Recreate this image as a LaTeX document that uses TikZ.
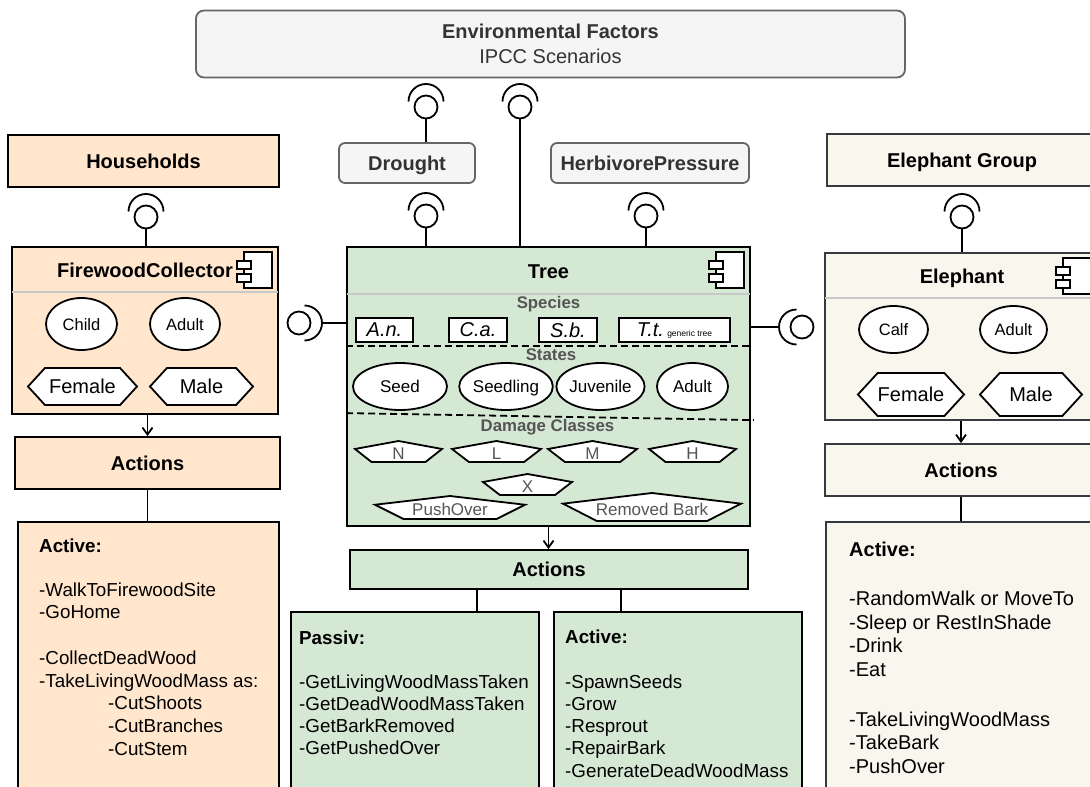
\documentclass[tikz,border=0pt]{standalone}
\usepackage{fontspec}
\setmainfont{Liberation Sans}
\usetikzlibrary{arrows,arrows.meta,positioning,calc,shapes.geometric,shapes.symbols}

\definecolor{peach}{HTML}{FFE6CC}
\definecolor{leaf}{HTML}{D5E8D4}
\definecolor{ivory}{HTML}{F9F7ED}
\definecolor{ivoryline}{HTML}{36393D}
\definecolor{envfill}{HTML}{F5F5F5}
\definecolor{envline}{HTML}{666666}
\definecolor{envtext}{HTML}{333333}
\definecolor{subtext}{HTML}{555555}
\definecolor{sepline}{HTML}{C8C8C8}

\newcommand{\fsz}[2]{\fontsize{#1}{#2}\selectfont}
% component icon in the upper right corner of a box
\newcommand{\compicon}[1]{%
  \begin{scope}[shift={(#1.north east)}]
    \filldraw[iconline] (-35,-6) rectangle (-7,-42);
    \filldraw[iconline] (-42,-15) rectangle (-28,-23);
    \filldraw[iconline] (-42,-28) rectangle (-28,-36);
  \end{scope}}
% damage class: name, x, y, width, height, label
\newcommand{\dmgcls}[6]{%
  \filldraw[dmgline] ({#2-#4/2},{#3+0.12*#5}) -- ({#2},{#3+#5/2})
    -- ({#2+#4/2},{#3+0.12*#5}) -- ({#2+0.31*#4},{#3-#5/2})
    -- ({#2-0.31*#4},{#3-#5/2}) -- cycle;
  \node[dmgtext] (#1) at (#2,{#3-2}) {#6};}

\tikzset{
  wire/.style={line width=1.8pt},
  boxed/.style={draw, line width=1.8pt, inner sep=0pt},
  peachbox/.style={boxed, fill=peach},
  leafbox/.style={boxed, fill=leaf},
  ivorybox/.style={boxed, fill=ivory, draw=ivoryline},
  envbox/.style={draw=envline, fill=envfill, line width=1.8pt, rounded corners=8pt,
    text=envtext, font=\fsz{20}{25}},
  boxtitle/.style={font=\fsz{20}{24}\bfseries, text height=14.3pt, text depth=0pt},
  sepbar/.style={draw=sepline, line width=1.8pt},
  iconline/.style={draw, fill=white, line width=1.5pt},
  stateell/.style={ellipse, draw, fill=white, line width=1.8pt, inner sep=0pt,
    text height=12pt, text depth=0pt},
  gender/.style={signal, signal to=east and west, signal pointer angle=95, draw,
    fill=white, line width=1.8pt, inner sep=0pt, font=\fsz{20}{24}},
  speciesbox/.style={draw, fill=white, line width=1.8pt, inner sep=0pt,
    minimum height=24pt, font=\fsz{20}{24}\itshape},
  sectlabel/.style={font=\fsz{16.8}{20}\bfseries, text=subtext},
  dashline/.style={line width=1.8pt, dash pattern=on 7pt off 4pt},
  dmgline/.style={draw, fill=white, line width=1.8pt},
  dmgtext/.style={font=\fsz{17}{20}, text=subtext, inner sep=0pt},
  ifball/.style={circle, draw, fill=white, line width=1.8pt, minimum size=23pt, inner sep=0pt},
  actionlist/.style={align=left, anchor=north west, inner sep=0pt},
  iface/.pic={
    \node[ifball] (-b) at (0,0) {};
    \draw[wire] (-17.5,5.5) arc[start angle=180, end angle=0, radius=17.5];
    \coordinate (-s) at (0,23);
  }
}

\begin{document}
\begin{tikzpicture}[x=1pt,y=1pt,>={Straight Barb[length=7pt,width=10pt]}]
\useasboundingbox (0,0) rectangle (1090,-787);
\clip (0,0) rectangle (1090,-787);

% environment and pressures
\node[envbox, minimum width=709pt, minimum height=67pt, align=center] (env) at (550.5,-44)
  {\textbf{Environmental Factors}\\IPCC Scenarios};
\node[envbox, rounded corners=6pt, minimum width=136pt, minimum height=40pt,
  font=\fsz{20}{24}\bfseries, text height=14.3pt, text depth=0pt] (drought) at (407,-163) {Drought};
\node[envbox, rounded corners=6pt, minimum width=198pt, minimum height=40pt,
  font=\fsz{20}{24}\bfseries, text height=14.3pt, text depth=0pt] (herb) at (650,-163) {HerbivorePressure};

% agent groups
\node[peachbox, minimum width=271pt, minimum height=52pt, boxtitle] (house) at (143.5,-161) {Households};
\node[ivorybox, minimum width=270pt, minimum height=52pt, boxtitle] (egroup) at (962,-160) {Elephant Group};

% component boxes
\node[peachbox, minimum width=266pt, minimum height=167pt] (fc) at (145,-330.5) {};
\node[leafbox, minimum width=403pt, minimum height=279pt] (tree) at (548.5,-386.5) {};
\node[ivorybox, minimum width=272pt, minimum height=167pt] (ele) at (961,-336.5) {};

\draw[sepbar] ($(fc.north west)+(1,-46)$) -- ($(fc.north east)+(-1,-46)$);
\draw[sepbar] ($(tree.north west)+(1,-48)$) -- ($(tree.north east)+(-1,-48)$);
\draw[sepbar] ($(ele.north west)+(1,-46)$) -- ($(ele.north east)+(-1,-46)$);

\node[boxtitle] (fcT) at (145,-270) {FirewoodCollector};
\node[boxtitle] (treeT) at (548.5,-271) {Tree};
\node[boxtitle] (eleT) at (962,-276) {Elephant};
\compicon{fc}
\compicon{tree}
\compicon{ele}

% firewood collector
\node[stateell, minimum width=71pt, minimum height=52pt, font=\fsz{16.5}{20}] (fcChild) at (81.5,-324) {Child};
\node[stateell, minimum width=70pt, minimum height=52pt, font=\fsz{16.5}{20}] (fcAdult) at (185,-324) {Adult};
\node[gender, minimum width=109pt, minimum height=37pt] (fcFemale) at (82.5,-386.5) {Female};
\node[gender, minimum width=103pt, minimum height=37pt] (fcMale) at (201.5,-386.5) {Male};

% elephant
\node[stateell, minimum width=69pt, minimum height=47pt, font=\fsz{16.5}{20}] (eleCalf) at (893.5,-329.5) {Calf};
\node[stateell, minimum width=67pt, minimum height=47pt, font=\fsz{16.5}{20}] (eleAdult) at (1013.5,-329.5) {Adult};
\node[gender, minimum width=104pt, minimum height=43pt] (eleFemale) at (911,-394.5) {Female};
\node[gender, minimum width=102pt, minimum height=43pt] (eleMale) at (1031,-394.5) {Male};

% tree: species
\node[sectlabel] (species) at (548.5,-304) {Species};
\node[speciesbox, minimum width=57pt] (spAn) at (384.5,-330) {A.n.};
\node[speciesbox, minimum width=58pt] (spCa) at (478,-330) {C.a.};
\node[speciesbox, minimum width=58pt] (spSb) at (568,-330) {S.b.};
\node[speciesbox, minimum width=111pt] (spTt) at (674.5,-330) {T.t.\,{\fsz{8.5}{10}\upshape generic tree}};
\draw[dashline] ($(tree.north west)+(0,-100)$) -- ($(tree.north east)+(0,-100)$);

% tree: states
\node[sectlabel] (states) at (551,-355) {States};
\node[stateell, minimum width=94pt, minimum height=47pt, font=\fsz{17}{20}] (stSeed) at (400,-386.5) {Seed};
\node[stateell, minimum width=82pt, minimum height=47pt, font=\fsz{17}{20}] (stSeedling) at (506,-386.5) {Seedling};
\node[stateell, minimum width=75pt, minimum height=47pt, font=\fsz{17}{20}] (stJuvenile) at (600.5,-386.5) {Juvenile};
\node[stateell, minimum width=71pt, minimum height=47pt, font=\fsz{17}{20}] (stAdult) at (692.5,-386.5) {Adult};
\draw[dashline] ($(tree.north west)+(0,-167)$) -- ($(tree.north east)+(3,-174)$);

% tree: damage classes
\node[sectlabel] (damage) at (547.5,-427) {Damage Classes};
\dmgcls{dmgN}{398.5}{-451.5}{87}{21}{N}
\dmgcls{dmgL}{496.5}{-451.5}{89}{21}{L}
\dmgcls{dmgM}{592.5}{-451.5}{89}{21}{M}
\dmgcls{dmgH}{692.5}{-451.5}{87}{21}{H}
\dmgcls{dmgX}{527.5}{-484.5}{89}{21}{X}
\dmgcls{dmgPush}{450}{-507.5}{150}{23}{PushOver}
\dmgcls{dmgBark}{652}{-507}{178}{28}{Removed Bark}

% interfaces
\pic (bD1) at (426,-107) {iface};
\pic (bEnv) at (520,-107) {iface};
\pic (bD2) at (426,-216) {iface};
\pic (bH) at (646,-216) {iface};
\pic (bHH) at (146,-217) {iface};
\pic (bEG) at (962,-217) {iface};
\pic[rotate=-90] (bL) at (299,-323) {iface};
\pic[rotate=90] (bR) at (802,-327) {iface};

\draw[wire] (bD1-b.south) -- (bD1-b.south |- drought.north);
\draw[wire] (bEnv-b.south) -- (bEnv-b.south |- tree.north);
\draw[wire] (bD2-b.south) -- (bD2-b.south |- tree.north);
\draw[wire] (bH-b.south) -- (bH-b.south |- tree.north);
\draw[wire] (bHH-b.south) -- (bHH-b.south |- fc.north);
\draw[wire] (bEG-b.south) -- (bEG-b.south |- ele.north);
\draw[wire] (bL-s) -- (bL-s -| tree.west);
\draw[wire] (bR-s) -- (bR-s -| tree.east);

% actions
\node[peachbox, minimum width=265pt, minimum height=52pt, boxtitle] (actL) at (147.5,-463) {Actions};
\node[leafbox, minimum width=398pt, minimum height=39pt, boxtitle] (actT) at (549,-569.5) {Actions};
\node[ivorybox, minimum width=272pt, minimum height=52pt, boxtitle] (actE) at (961,-470) {Actions};

\node[peachbox, minimum width=261pt, minimum height=278pt] (activeL) at (148.5,-661) {};
\node[leafbox, minimum width=248pt, minimum height=188pt] (passiv) at (415,-706) {};
\node[leafbox, minimum width=248pt, minimum height=188pt] (activeT) at (678,-706) {};
\node[ivorybox, minimum width=271pt, minimum height=278pt] (activeE) at (961.5,-661) {};

\draw[wire,->] (actL.north |- fc.south) -- (actL.north);
\draw[wire] (actL.south) -- (actL.south |- activeL.north);
\draw[wire,->] (tree.south) -- (tree.south |- actT.north);
\coordinate (tj1) at ($(actT.south west)!0.319!(actT.south east)$);
\coordinate (tj2) at ($(actT.south west)!0.68!(actT.south east)$);
\draw[wire] (tj1) -- (tj1 |- passiv.north);
\draw[wire] (tj2) -- (tj2 |- activeT.north);
\draw[wire,->] (ele.south) -- (ele.south |- actE.north);
\draw[wire] (actE.south) -- (actE.south |- activeE.north);

\node[actionlist, font=\fsz{18.8}{22.6}] (lstL) at (39,-538.2) {\textbf{Active:}\\[21.4pt]
  -WalkToFirewoodSite\\
  -GoHome\\[23.4pt]
  -CollectDeadWood\\
  -TakeLivingWoodMass as:\\
  \hspace*{69pt}-CutShoots\\
  \hspace*{69pt}-CutBranches\\
  \hspace*{69pt}-CutStem};
\node[actionlist, font=\fsz{18.8}{22.3}] (lstP) at (299,-630.2) {\textbf{Passiv:}\\[21.7pt]
  -GetLivingWoodMassTaken\\
  -GetDeadWoodMassTaken\\
  -GetBarkRemoved\\
  -GetPushedOver};
\node[actionlist, font=\fsz{18.8}{22.3}] (lstT) at (565,-629.2) {\textbf{Active:}\\[22.7pt]
  -SpawnSeeds\\
  -Grow\\
  -Resprout\\
  -RepairBark\\
  -GenerateDeadWoodMass};
\node[actionlist, font=\fsz{20}{23.5}] (lstE) at (849,-541.8) {\textbf{Active:}\\[25.5pt]
  -RandomWalk or MoveTo\\
  -Sleep or RestInShade\\
  -Drink\\
  -Eat\\[26.5pt]
  -TakeLivingWoodMass\\
  -TakeBark\\
  -PushOver};
\end{tikzpicture}
\end{document}
